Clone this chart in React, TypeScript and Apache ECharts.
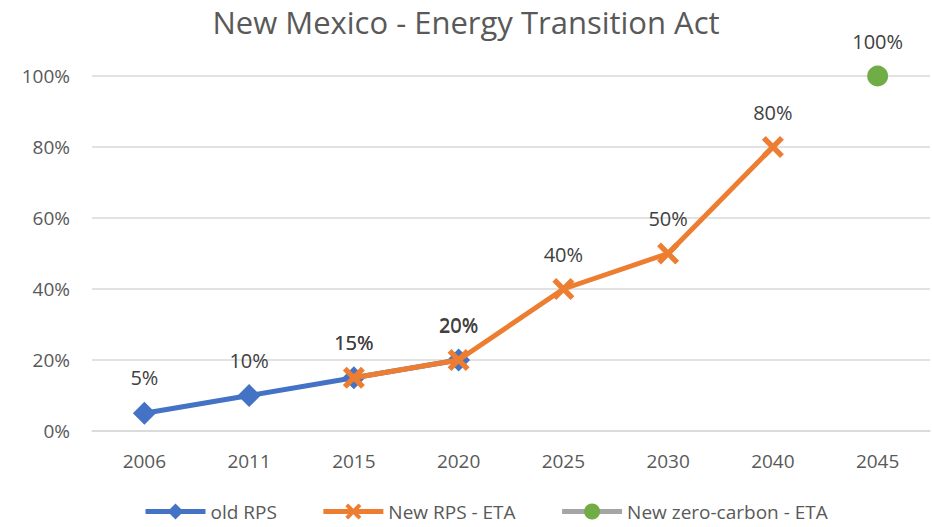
import React, { useEffect, useRef } from "react";
import * as echarts from "echarts";

const categories = ["2006", "2011", "2015", "2020", "2025", "2030", "2040", "2045"];
const oldRps = [5, 10, 15, 20, null, null, null, null];
const newRps = [null, null, 15, 20, 40, 50, 80, null];
const zeroCarbon = [null, null, null, null, null, null, null, 100];

const FONT = "'Open Sans', sans-serif";
const X_PATH =
  "path://M0,3.5 L3.5,0 L10,6.5 L16.5,0 L20,3.5 L13.5,10 L20,16.5 L16.5,20 L10,13.5 L3.5,20 L0,16.5 L6.5,10 Z";

export default function App() {
  const ref = useRef<HTMLDivElement>(null);
  useEffect(() => {
    if (!ref.current) return;
    const chart = echarts.init(ref.current, null, { renderer: "svg" });
    const label = {
      show: true,
      position: "top" as const,
      distance: 14,
      fontSize: 20,
      fontFamily: FONT,
      color: "#404040",
      formatter: "{c}%",
    };
    chart.setOption({
      animation: false,
      backgroundColor: "#ffffff",
      title: {
        text: "New Mexico - Energy Transition Act",
        left: "center",
        top: 1,
        textStyle: { fontSize: 31, fontWeight: "normal", color: "#595959", fontFamily: FONT },
      },
      grid: { left: 92, right: 2, top: 76, bottom: 96, containLabel: false },
      legend: {
        bottom: 1,
        left: 138,
        itemWidth: 60,
        itemHeight: 20,
        itemGap: 44,
        lineStyle: { width: 5 },
        textStyle: { fontSize: 19, color: "#595959", fontFamily: FONT },
        data: ["old RPS", "New RPS - ETA", "New zero-carbon - ETA"],
      },
      xAxis: {
        type: "category",
        data: categories,
        boundaryGap: true,
        axisLine: { lineStyle: { color: "#D9D9D9", width: 1.5 } },
        axisTick: { show: false },
        axisLabel: { fontSize: 19, color: "#595959", fontFamily: FONT, margin: 20 },
      },
      yAxis: {
        type: "value",
        min: 0,
        max: 100,
        interval: 20,
        axisLine: { show: false },
        axisTick: { show: false },
        splitLine: { lineStyle: { color: "#D9D9D9", width: 1.5 } },
        axisLabel: { formatter: "{value}%", fontSize: 19, color: "#595959", fontFamily: FONT, margin: 22 },
      },
      series: [
        {
          name: "old RPS",
          type: "line",
          data: oldRps,
          symbol: "diamond",
          symbolSize: 23,
          lineStyle: { color: "#4472C4", width: 5 },
          itemStyle: { color: "#4472C4" },
          label,
          z: 2,
        },
        {
          name: "New RPS - ETA",
          type: "line",
          data: newRps,
          symbol: X_PATH,
          symbolSize: 22,
          lineStyle: { color: "#ED7D31", width: 5 },
          itemStyle: { color: "#ED7D31" },
          label,
          z: 3,
        },
        {
          name: "New zero-carbon - ETA",
          type: "line",
          data: zeroCarbon,
          symbol: "circle",
          symbolSize: 21,
          lineStyle: { color: "#A5A5A5", width: 5 },
          itemStyle: { color: "#70AD47" },
          label,
          z: 4,
        },
      ],
    });
    return () => chart.dispose();
  }, []);
  return <div ref={ref} style={{ width: 932, height: 527, position: "absolute", left: 0, top: 0 }} />;
}
